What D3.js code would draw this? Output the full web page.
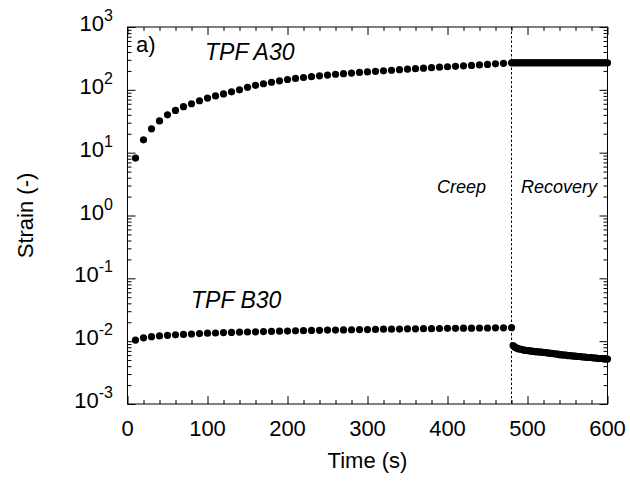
<html>
<head>
    <style>
        body { margin: 0; background: #fff; }
        text { font-family: Arial, "Liberation Sans", sans-serif; fill: #000; }
        .axis path, .axis line { stroke: #000; stroke-width: 1px; }
    </style>
</head>
<body>
    <script src="https://d3js.org/d3.v7.min.js"></script>
    <script>
        var width = 630,
            height = 481;

        // times (s)
        var creepTime = [10, 20, 30, 40, 50, 60, 70, 80, 90, 100, 110, 120, 130, 140, 150, 160,
            170, 180, 190, 200, 210, 220, 230, 240, 250, 260, 270, 280, 290, 300, 310, 320,
            330, 340, 350, 360, 370, 380, 390, 400, 410, 420, 430, 440, 450, 460, 470, 480];
        var recoveryTime = [482, 484, 486, 488, 490, 492, 494, 496, 498, 500, 502, 504, 506, 508,
            510, 512, 514, 516, 518, 520, 522, 524, 526, 528, 530, 532, 534, 536, 538, 540,
            542, 544, 546, 548, 550, 552, 554, 556, 558, 560, 562, 564, 566, 568, 570, 572,
            574, 576, 578, 580, 582, 584, 586, 588, 590, 592, 594, 596, 598, 600];

        // TPF A30 strain
        var a30Creep = [8.2, 16, 24, 32, 40, 47, 54, 60, 67, 74, 80, 86, 93, 100, 110, 118,
            125, 132, 139, 146, 152, 157, 162, 167, 172, 177, 181, 185, 189, 193, 197, 201,
            205, 209, 213, 217, 221, 225, 229, 233, 237, 241, 245, 249, 254, 259, 264, 269];
        var a30Recovery = [270, 270, 270, 270, 270, 270, 270, 270, 270, 270, 270, 270, 270, 270,
            270, 270, 270, 270, 270, 270, 270, 270, 270, 270, 270, 270, 270, 270, 270, 270,
            270, 270, 270, 270, 270, 270, 270, 270, 270, 270, 270, 270, 270, 270, 270, 270,
            270, 270, 270, 270, 270, 270, 270, 270, 270, 270, 270, 270, 270, 270];

        // TPF B30 strain
        var b30Creep = [0.0104, 0.0113, 0.0118, 0.0121, 0.0124, 0.0126, 0.0128, 0.0130, 0.0132,
            0.0134, 0.0135, 0.0137, 0.0138, 0.0139, 0.0140, 0.0141, 0.0142, 0.0143, 0.0144,
            0.0145, 0.0146, 0.0147, 0.0148, 0.0149, 0.0150, 0.0150, 0.0151, 0.0152, 0.0153,
            0.0153, 0.0154, 0.0155, 0.0155, 0.0156, 0.0157, 0.0157, 0.0158, 0.0158, 0.0159,
            0.0160, 0.0160, 0.0161, 0.0161, 0.0162, 0.0162, 0.0163, 0.0163, 0.0164];
        var b30Recovery = [0.0085, 0.0081, 0.0078, 0.0076, 0.0075, 0.0074, 0.0073, 0.0072, 0.0071,
            0.0071, 0.0070, 0.0070, 0.0069, 0.0069, 0.0068, 0.0068, 0.0067, 0.0067, 0.0067,
            0.0066, 0.0066, 0.0065, 0.0065, 0.0064, 0.0064, 0.0063, 0.0063, 0.0062, 0.0062,
            0.0061, 0.0061, 0.0060, 0.0060, 0.0060, 0.0059, 0.0059, 0.0059, 0.0058, 0.0058,
            0.0058, 0.0057, 0.0057, 0.0057, 0.0056, 0.0056, 0.0056, 0.0055, 0.0055, 0.0055,
            0.0055, 0.0054, 0.0054, 0.0054, 0.0053, 0.0053, 0.0053, 0.0053, 0.0052, 0.0052, 0.0052];

        var xMajor = [0, 100, 200, 300, 400, 500, 600];
        var yExponents = [-3, -2, -1, 0, 1, 2, 3];
        var switchTime = 480;

        var pLeft = 127.5, pRight = 607.5, pTop = 27, pBottom = 404;

        var svg = d3.select("body")
            .append("svg")
            .attr("width", width)
            .attr("height", height);

        var x = d3.scaleLinear().domain([0, 600]).range([pLeft, pRight]);
        var y = d3.scaleLog().domain([1e-3, 1e3]).range([pBottom, pTop]);

        var xMinor = d3.range(0, 601, 20).filter(function (d) { return d % 100 != 0; });
        var yMinor = [];
        yExponents.slice(0, -1).forEach(function (e) {
            for (var k = 2; k < 10; k++) yMinor.push(k * Math.pow(10, e));
        });
        var yMajor = yExponents.map(function (e) { return Math.pow(10, e); });

        // ticks, inside on all four sides
        function addAxis(axis, tx, ty) {
            svg.append("g").attr("class", "axis")
                .attr("transform", "translate(" + tx + "," + ty + ")")
                .call(axis)
                .call(function (g) { g.selectAll("text").remove(); g.select(".domain").remove(); });
        }
        addAxis(d3.axisBottom(x).tickValues(xMajor).tickSize(-8), 0, pBottom);
        addAxis(d3.axisBottom(x).tickValues(xMinor).tickSize(-4), 0, pBottom);
        addAxis(d3.axisTop(x).tickValues(xMajor).tickSize(-8), 0, pTop);
        addAxis(d3.axisTop(x).tickValues(xMinor).tickSize(-4), 0, pTop);
        addAxis(d3.axisLeft(y).tickValues(yMajor).tickSize(-8), pLeft, 0);
        addAxis(d3.axisLeft(y).tickValues(yMinor).tickSize(-4), pLeft, 0);
        addAxis(d3.axisRight(y).tickValues(yMajor).tickSize(-8), pRight, 0);
        addAxis(d3.axisRight(y).tickValues(yMinor).tickSize(-4), pRight, 0);

        svg.append("rect")
            .attr("x", pLeft).attr("y", pTop)
            .attr("width", pRight - pLeft).attr("height", pBottom - pTop)
            .attr("fill", "none").attr("stroke", "#000").attr("stroke-width", 1);

        // tick labels
        svg.selectAll(".xlab").data(xMajor).enter().append("text")
            .attr("x", function (d) { return x(d); })
            .attr("y", 436)
            .attr("text-anchor", "middle")
            .style("font-size", "22px")
            .text(function (d) { return d; });

        var ylab = svg.selectAll(".ylab").data(yExponents).enter().append("text")
            .attr("text-anchor", "end")
            .attr("x", 113)
            .attr("y", function (d) { return y(Math.pow(10, d)) + 4; })
            .style("font-size", "22px");
        ylab.append("tspan").text("10");
        ylab.append("tspan")
            .attr("dy", -10)
            .style("font-size", "16px")
            .text(function (d) { return d; });

        svg.append("text")
            .attr("x", (pLeft + pRight) / 2).attr("y", 468)
            .attr("text-anchor", "middle")
            .style("font-size", "22px")
            .text("Time (s)");

        svg.append("text")
            .attr("transform", "translate(33," + ((pTop + pBottom) / 2) + ") rotate(-90)")
            .attr("text-anchor", "middle")
            .style("font-size", "22px")
            .text("Strain (-)");

        // creep / recovery divider
        svg.append("line")
            .attr("x1", x(switchTime)).attr("x2", x(switchTime))
            .attr("y1", pTop).attr("y2", pBottom)
            .attr("stroke", "#000").attr("stroke-width", 1)
            .attr("stroke-dasharray", "2.5,2");

        svg.append("text").attr("x", 486).attr("y", 193).attr("text-anchor", "end")
            .style("font-size", "18px").style("font-style", "italic").text("Creep");
        svg.append("text").attr("x", 521).attr("y", 193)
            .style("font-size", "18px").style("font-style", "italic").text("Recovery");

        svg.append("text").attr("x", 136).attr("y", 52)
            .style("font-size", "22px").text("a)");
        svg.append("text").attr("x", 205).attr("y", 60)
            .style("font-size", "23px").style("font-style", "italic").text("TPF A30");
        svg.append("text").attr("x", 191).attr("y", 308)
            .style("font-size", "23px").style("font-style", "italic").text("TPF B30");

        // points
        function toPoints(t, v) {
            return t.map(function (d, i) { return { t: d, v: v[i] }; });
        }
        var points = [].concat(
            toPoints(creepTime, a30Creep),
            toPoints(recoveryTime, a30Recovery),
            toPoints(creepTime, b30Creep),
            toPoints(recoveryTime, b30Recovery)
        );

        svg.append("g").selectAll("circle")
            .data(points)
            .enter()
            .append("circle")
            .attr("cx", function (d) { return x(d.t); })
            .attr("cy", function (d) { return y(d.v); })
            .attr("r", 3.6)
            .attr("fill", "#000");
    </script>
</body>
</html>
